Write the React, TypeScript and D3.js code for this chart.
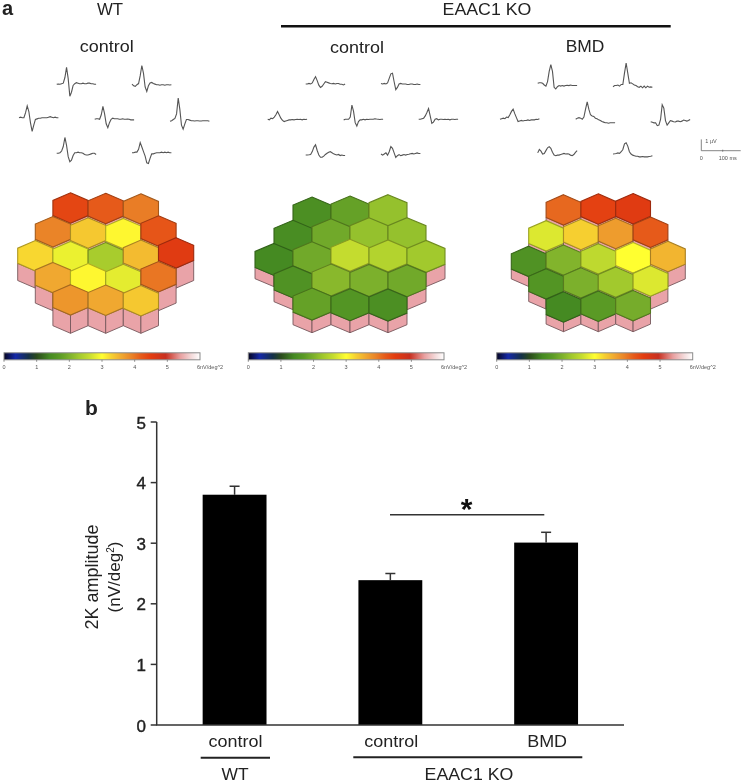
import React from "react";
import * as d3 from "d3";

// ---------- DATA ----------
const colorDomain = [0, 0.35, 0.75, 1.0, 1.4, 1.7, 2.0, 2.3, 2.6, 2.8, 3.0, 3.3, 3.6, 3.9, 4.2, 4.5, 4.95, 5.4, 5.75, 6];
const colorRange = ["#050520", "#1428a8", "#143048", "#2a4a1c", "#458a22", "#5a9a25", "#7cb02c", "#a2c92d", "#c4dc2f", "#e4ec30", "#ffff30", "#f6cf30", "#f0a830", "#ea8428", "#e65a1a", "#e33c10", "#c83020", "#e8a0a0", "#f4dcdc", "#ffffff"];

const wtCells = [
  [4.4, 4.2, 3.95],
  [3.9, 3.35, 3.05, 4.25],
  [3.25, 2.85, 2.35, 3.45, 4.55],
  [3.6, 3.05, 2.8, 4.0],
  [3.75, 3.6, 3.35],
];
const koCells = [
  [1.5, 1.8, 2.2],
  [1.45, 1.9, 2.2, 2.2],
  [1.4, 1.9, 2.6, 2.45, 2.3],
  [1.55, 2.1, 2.0, 1.9],
  [1.8, 1.6, 1.5],
];
const bmdCells = [
  [4.1, 4.45, 4.55],
  [2.75, 3.3, 3.7, 4.2],
  [1.55, 2.05, 2.55, 3.0, 3.5],
  [1.6, 2.0, 2.3, 2.75],
  [1.4, 1.7, 1.95],
];

// multifocal traces, µV, 25 samples over 184 ms
const wtTraces = [
  [0, 0.03, 0, 0.05, 0.1, 0.6, 1.5, 0.5, -1.05, -0.7, -0.1, 0.05, 0.15, 0.1, 0.05, 0.05, 0.1, 0.05, 0.05, 0.1, 0.1, 0.05, 0.05, 0, 0],
  [0.05, -0.1, -0.15, 0, 0.1, 0.8, 1.7, 1.0, -0.2, -0.6, -0.1, 0.15, 0.2, 0.1, 0.05, 0, 0, -0.05, 0, 0, -0.05, 0, 0, -0.02, 0],
  [0.05, 0.1, 0.05, 0.05, 0.5, 1.1, 0.6, -0.4, -1.15, -0.6, -0.1, -0.05, 0, 0, 0.05, 0.05, 0.05, 0.05, 0.1, 0.15, 0.1, 0.05, 0.1, 0.05, 0.05],
  [0, 0.05, 0.05, 0, 0.4, 1.15, 0.5, -0.4, -0.75, -0.3, 0, 0.1, 0.05, 0.05, 0.05, 0, 0, 0.05, 0, 0, 0.02, 0, -0.05, -0.05, -0.05],
  [-0.05, 0, 0.1, 0.2, 0.6, 2.0, 1.0, -0.4, -0.75, -0.3, 0.1, 0.1, 0.05, 0, 0, -0.02, 0, 0, -0.02, -0.02, 0, 0, 0, 0, -0.05],
  [0, 0, 0.05, 0.2, 0.6, 1.4, 0.7, -0.3, -0.75, -0.6, -0.2, 0.05, 0.05, 0.1, 0.05, 0.05, 0, -0.1, -0.15, -0.15, -0.1, -0.05, 0, 0, -0.1],
  [0, 0, 0.05, 0.05, 0.3, 0.9, 0.5, 0.1, -0.3, -0.9, -0.95, -0.5, -0.1, -0.1, -0.05, 0, 0, 0, 0.05, 0, 0.05, 0, 0.05, 0, 0],
];
const koTraces = [
  [0, 0, 0.05, 0, 0.1, 0.4, 0.65, 0.3, -0.1, -0.3, -0.2, 0, 0.2, 0.15, 0.1, 0.05, 0.02, 0.05, 0, 0.05, 0.05, -0.02, -0.02, -0.08, 0],
  [0.05, 0, 0.05, 0, 0.1, 0.5, 0.9, 0.95, 0.2, -0.5, -0.3, 0, 0.05, 0, 0, 0, -0.05, -0.05, 0, 0, -0.05, -0.05, 0, -0.05, -0.05],
  [0, -0.05, 0.1, 0.05, 0.2, 0.4, 0.7, 0.4, 0.1, -0.1, -0.2, -0.15, -0.1, -0.05, -0.05, -0.02, -0.05, -0.02, 0, -0.02, 0, -0.05, 0, -0.02, 0],
  [-0.05, 0, 0, 0, 0.2, 1.25, 0.7, -0.3, -0.6, -0.2, -0.05, -0.05, 0, -0.05, 0, -0.02, 0, 0, 0, 0.05, 0.02, 0, -0.02, 0, 0],
  [0, 0, 0.05, 0.1, 0.3, 0.6, 0.95, 0.3, -0.35, -0.25, 0, 0.05, -0.05, 0, 0, -0.02, 0, -0.02, 0, -0.05, 0, 0, -0.02, 0, 0],
  [0, 0, 0.02, 0.05, 0.3, 0.7, 0.9, 0.4, 0, -0.2, -0.2, -0.1, 0.05, 0.15, 0.25, 0.3, 0.2, 0.1, 0.05, 0, 0.05, -0.05, 0, -0.05, -0.05],
  [0, -0.1, 0, 0.1, -0.1, 0.2, 0.65, 0.5, 0.1, -0.3, -0.15, -0.05, -0.15, -0.1, -0.05, -0.1, -0.05, -0.02, 0.02, 0.05, 0, 0.05, 0.1, 0.05, 0.05],
];
const bmdTraces = [
  [0.15, 0.2, 0.2, 0.15, 0, -0.1, 0.3, 1.2, 1.8, 1.2, -0.2, -0.35, -0.15, -0.05, -0.1, -0.05, -0.1, -0.05, -0.02, -0.05, 0, -0.05, -0.05, -0.05, -0.05],
  [0, 0.1, 0.1, 0.15, 0.05, 0.2, 0.2, 1.2, 2.1, 1.2, 0.3, 0.35, 0.25, 0.15, 0.1, 0, -0.05, 0.05, -0.1, 0.05, -0.1, 0.05, -0.05, -0.02, -0.05],
  [0, 0.05, 0.1, 0.05, 0.2, 0.15, 0.4, 0.7, 0.9, 0.5, 0.15, -0.2, -0.15, -0.1, -0.15, -0.1, -0.1, -0.05, -0.1, -0.05, -0.05, -0.05, 0, -0.02, 0.05],
  [0, 0.1, 0.15, 0.1, 0, 0.2, 0.9, 1.55, 0.9, 0.4, 0.3, 0.25, 0.1, 0.05, -0.05, -0.1, -0.2, -0.25, -0.3, -0.3, -0.35, -0.3, -0.3, -0.3, -0.3],
  [0, -0.05, -0.1, -0.1, -0.35, -0.3, 0.2, 1.5, 1.2, 0.1, -0.3, -0.1, 0.1, 0.05, 0, -0.02, 0.05, 0.05, 0, 0.05, 0.15, 0.1, 0.05, 0.1, 0.2],
  [0.1, 0.4, 0.25, 0.0, 0.05, 0.3, 0.55, 0.65, 0.5, 0.15, -0.1, -0.15, -0.1, -0.1, -0.05, 0, 0.05, 0, 0.02, 0, -0.1, -0.15, -0.05, 0.15, 0.3],
  [0, 0.02, 0.05, 0.1, 0.05, 0.2, 0.4, 0.9, 1.0, 0.7, 0.2, 0, -0.1, -0.15, -0.2, -0.2, -0.25, -0.25, -0.22, -0.25, -0.25, -0.25, -0.22, -0.2, -0.15],
];

const barCategories = ["WT control", "KO control", "KO BMD"];
const barLabels = ["control", "control", "BMD"];
const barMeans = [3.8, 2.39, 3.01];
const barUppers = [3.94, 2.5, 3.18];
const yTicks = [0, 1, 2, 3, 4, 5];
const colorbarTicks = [0, 1, 2, 3, 4, 5];

// ---------- LAYOUT ----------
const FONT = '"Liberation Sans", Arial, sans-serif';
const INK = "#222";

const panels = [
  { cells: wtCells, traces: wtTraces, cx: 105.7, baseY: 318.1, rowStep: 22.6, hw: 17.6, R: 15.2, height: [10, 23.2], bar: [4, 200],
    slots: [[56.7, 84.3], [132, 84.7], [19, 118.3], [94.7, 119.3], [170, 120.7], [56.7, 153.3], [132, 152.7]] },
  { cells: koCells, traces: koTraces, cx: 350, baseY: 316.7, rowStep: 23, hw: 19, R: 16, height: [6.5, 26.9], bar: [248.3, 444],
    slots: [[305.7, 84], [381, 84], [267.7, 119.3], [343.7, 119.3], [418.7, 119.3], [305.7, 155], [381, 154]] },
  { cells: bmdCells, traces: bmdTraces, cx: 598.3, baseY: 316.5, rowStep: 22.6, hw: 17.4, R: 15.2, height: [6, 21], bar: [496.7, 692.7],
    slots: [[537.7, 85], [613, 86.7], [500, 119.3], [575.7, 119.3], [650.7, 121.7], [537.7, 154], [613, 154]] },
];

const cellColor = d3.scaleLinear<string>().domain(colorDomain).range(colorRange).interpolate(d3.interpolateRgb);
const traceX = d3.scaleLinear().domain([0, 184]).range([0, 39.4]);
const traceY = d3.scaleLinear().domain([0, 1]).range([0, -11.3]);
const sampleMs = 184 / 24;
const traceLine = d3.line<number>().x((_, i) => traceX(i * sampleMs)).y((v) => traceY(v));
const poly = d3.line<[number, number]>();
const closed = (pts: [number, number][]) => poly(pts) + "Z";

const barY = d3.scaleLinear().domain([0, 5]).range([725, 422]);
const barX = d3.scaleBand<string>().domain(barCategories).range([156.7, 624]).paddingInner(0.59).paddingOuter(0.295);

// horizontally widened label, as in the reference's stretched raster
function T({ x, y, f = 16.5, sx = 1.09, weight, stroke, children }: any) {
  return (
    <text transform={`translate(${x},${y}) scale(${sx},1)`} fontSize={f} textAnchor="middle" fontWeight={weight} stroke={stroke ? INK : undefined} strokeWidth={stroke}>
      {children}
    </text>
  );
}

function Prism({ cx, cy, baseCy, hw, R, value }: any) {
  const fill = cellColor(value);
  const edge = d3.color(fill)!.darker(1).formatHex();
  const side = "#e9a3a8";
  const sideEdge = "#76585c";
  return (
    <g>
      <path d={closed([[cx - hw, cy + R / 2], [cx, cy + R], [cx, baseCy + R], [cx - hw, baseCy + R / 2]])} fill={side} stroke={sideEdge} strokeWidth={0.9} />
      <path d={closed([[cx + hw, cy + R / 2], [cx, cy + R], [cx, baseCy + R], [cx + hw, baseCy + R / 2]])} fill={side} stroke={sideEdge} strokeWidth={0.9} />
      <path d={closed([[cx, cy - R], [cx + hw, cy - R / 2], [cx + hw, cy + R / 2], [cx, cy + R], [cx - hw, cy + R / 2], [cx - hw, cy - R / 2]])} fill={fill} stroke={edge} strokeWidth={1.1} />
    </g>
  );
}

function Panel({ p, idx }: any) {
  const h = d3.scaleLinear().domain([0, 6]).range(p.height);
  const cbX = d3.scaleLinear().domain([0, 6]).range(p.bar);
  const gradId = `cb${idx}`;
  const cbTop = 352.8;
  const cbH = 7;
  return (
    <g>
      {p.traces.map((t: number[], i: number) => (
        <path key={i} transform={`translate(${p.slots[i][0]},${p.slots[i][1]})`} d={traceLine(t)!} fill="none" stroke="#555" strokeWidth={1.1} />
      ))}
      {p.cells.map((row: number[], r: number) =>
        row.map((v, c) => {
          const cx = p.cx + (c * 2 - (row.length - 1)) * p.hw;
          const baseCy = p.baseY - (4 - r) * p.rowStep;
          return <Prism key={`${r}-${c}`} cx={cx} cy={baseCy - h(v)} baseCy={baseCy} hw={p.hw} R={p.R} value={v} />;
        })
      )}
      <defs>
        <linearGradient id={gradId} x1="0" x2="1" y1="0" y2="0">
          {colorDomain.map((d, i) => (
            <stop key={i} offset={d / 6} stopColor={colorRange[i]} />
          ))}
        </linearGradient>
      </defs>
      <rect x={p.bar[0]} y={cbTop} width={p.bar[1] - p.bar[0]} height={cbH} fill={`url(#${gradId})`} stroke="#8a8a8a" strokeWidth={1} />
      {colorbarTicks.map((t) => (
        <g key={t}>
          <line x1={cbX(t)} x2={cbX(t)} y1={cbTop + cbH} y2={cbTop + cbH + 2} stroke="#666" strokeWidth={0.7} />
          <text x={cbX(t)} y={cbTop + cbH + 9} fontSize={5.5} textAnchor="middle" fill="#555" fontFamily={FONT}>{t}</text>
        </g>
      ))}
      <text x={cbX(6) - 3} y={cbTop + cbH + 9} fontSize={5.5} fill="#555" fontFamily={FONT}>6nV/deg^2</text>
    </g>
  );
}

function ScaleBar() {
  const x0 = 701.3, y0 = 150.7;
  return (
    <g fontFamily={FONT} fill="#555" fontSize={5.5}>
      <path d={`M${x0},${y0 + traceY(1)}V${y0}H${x0 + traceX(184)}`} fill="none" stroke="#666" strokeWidth={0.8} />
      <line x1={x0 + traceX(100)} x2={x0 + traceX(100)} y1={y0 - 1} y2={y0 + 1} stroke="#666" strokeWidth={0.8} />
      <text x={x0 + 4} y={142.5}>1 µV</text>
      <text x={x0 + traceX(0)} y={159.5} textAnchor="middle">0</text>
      <text x={x0 + traceX(100) + 5} y={159.5} textAnchor="middle">100 ms</text>
    </g>
  );
}

function Bars() {
  const ax = 156.7;
  return (
    <g fontFamily={FONT} fill={INK}>
      {barCategories.map((c, i) => {
        const x = barX(c)!;
        const mid = x + barX.bandwidth() / 2;
        return (
          <g key={c}>
            <line x1={mid} x2={mid} y1={barY(barMeans[i])} y2={barY(barUppers[i])} stroke="#333" strokeWidth={1.5} />
            <line x1={mid - 5} x2={mid + 5} y1={barY(barUppers[i])} y2={barY(barUppers[i])} stroke="#333" strokeWidth={1.5} />
            <rect x={x} y={barY(barMeans[i])} width={barX.bandwidth()} height={barY(0) - barY(barMeans[i])} fill="#000" />
            <T x={mid + 1} y={746.7}>{barLabels[i]}</T>
          </g>
        );
      })}
      <path d={`M${ax},${barY(5)}V${barY(0)}H624`} fill="none" stroke="#333" strokeWidth={1.5} />
      {yTicks.map((t) => (
        <g key={t}>
          <line x1={ax - 6} x2={ax} y1={barY(t)} y2={barY(t)} stroke="#333" strokeWidth={1.5} />
          <T x={ax - 15.5} y={barY(t) + 6.6} f={17} sx={1} stroke={0.4}>{t}</T>
        </g>
      ))}
      <g transform="translate(98,577) rotate(-90)">
        <text x={0} y={0} fontSize={18} textAnchor="middle">2K amplitude</text>
        <text x={0} y={21.5} fontSize={17} textAnchor="middle">(nV/deg<tspan fontSize={10} dy={-6}>2</tspan><tspan dy={6}>)</tspan></text>
      </g>
      <line x1={200.7} x2={270} y1={757.7} y2={757.7} stroke="#222" strokeWidth={2} />
      <T x={235} y={779.5} f={16}>WT</T>
      <line x1={353.3} x2={582.3} y1={757.3} y2={757.3} stroke="#222" strokeWidth={2} />
      <T x={469} y={779.5} f={16} sx={1.11}>EAAC1 KO</T>
      <line x1={390} x2={544.3} y1={514.7} y2={514.7} stroke="#333" strokeWidth={1.5} />
      <text x={466.7} y={519} fontSize={30} fontWeight="bold" textAnchor="middle" fill="#111">*</text>
      <text x={85} y={415} fontSize={21} fontWeight="bold">b</text>
    </g>
  );
}

export default function App() {
  return (
    <svg width={743} height={783} viewBox="0 0 743 783" style={{ position: "absolute", left: 0, top: 0, background: "#fff", filter: "blur(0.5px)" }}>
      <g fontFamily={FONT} fill={INK}>
        <text x={2} y={14.5} fontSize={20} fontWeight="bold">a</text>
        <T x={110} y={14.5} f={16} sx={1.05}>WT</T>
        <T x={106.7} y={52}>control</T>
        <T x={487} y={14.5} f={16} sx={1.11}>EAAC1 KO</T>
        <line x1={281} x2={670.7} y1={26.3} y2={26.3} stroke="#111" strokeWidth={2.4} />
        <T x={357} y={52.7}>control</T>
        <T x={585} y={52} f={16} sx={1.09}>BMD</T>
      </g>
      {panels.map((p, i) => <Panel key={i} p={p} idx={i} />)}
      <ScaleBar />
      <Bars />
    </svg>
  );
}
